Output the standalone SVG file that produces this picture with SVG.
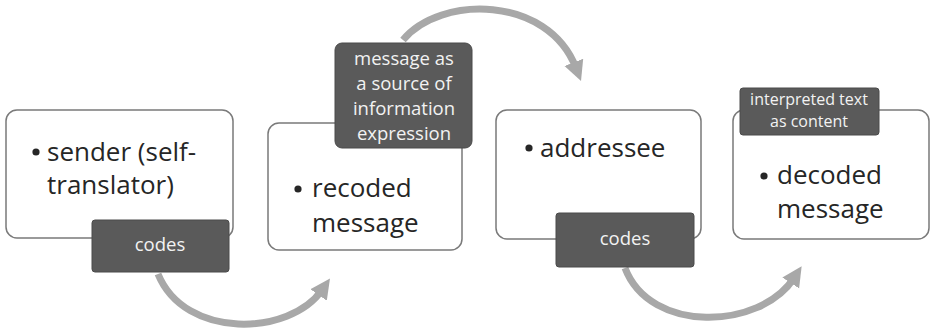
<svg xmlns="http://www.w3.org/2000/svg" width="937" height="333" viewBox="0 0 937 333">
<style>
.box{fill:#fff;stroke:#7a7a7a;stroke-width:1.5}
.lab{fill:#5a5a5a;stroke:#4a4a4a;stroke-width:1}
.bt{font-family:"Open Sans","Liberation Sans",sans-serif;font-size:26px;fill:#262626}
.lt{font-family:"Open Sans","Liberation Sans",sans-serif;font-size:18.5px;fill:#f2f2f2;text-anchor:middle}
.st{font-family:"Open Sans","Liberation Sans",sans-serif;font-size:16px;fill:#f2f2f2;text-anchor:middle}
.arr{fill:none;stroke:#a8a8a8;stroke-width:7;marker-end:url(#ah)}
</style>
<defs>
<marker id="ah" markerUnits="userSpaceOnUse" markerWidth="24" markerHeight="24" refX="6" refY="12" orient="auto" viewBox="0 0 24 24">
<path d="M0,2 L20,12 L0,22 Z" fill="#a8a8a8"/>
</marker>
</defs>
<g id="connectors">
<path class="arr" d="M158,274 C185,340 290,336 322,290"/>
<path class="arr" d="M403,40 C440,-5 548,-5 576,68"/>
<path class="arr" d="M625,268 C650,334 760,330 794,278"/>
</g>
<g id="node1">
<rect class="box" x="6" y="110" width="227" height="128" rx="11"/>
<circle cx="36" cy="152" r="3.6" fill="#262626"/>
<text class="bt" x="47" y="161">sender (self-</text>
<text class="bt" x="47" y="194">translator)</text>
<rect class="lab" x="92" y="220" width="137" height="52" rx="3"/>
<text class="lt" x="160" y="251" font-size="17">codes</text>
</g>
<g id="node2">
<rect class="box" x="268" y="123" width="194" height="127" rx="11"/>
<circle cx="298" cy="189" r="3.6" fill="#262626"/>
<text class="bt" x="312" y="197">recoded</text>
<text class="bt" x="312" y="232">message</text>
<rect class="lab" x="335" y="43" width="137" height="105" rx="7"/>
<text class="lt" x="404" y="65">message as</text>
<text class="lt" x="404" y="90">a source of</text>
<text class="lt" x="404" y="115">information</text>
<text class="lt" x="404" y="140">expression</text>
</g>
<g id="node3">
<rect class="box" x="496" y="110" width="205" height="129" rx="11"/>
<circle cx="529" cy="148" r="3.6" fill="#262626"/>
<text class="bt" x="540" y="157">addressee</text>
<rect class="lab" x="556" y="213" width="138" height="54" rx="3"/>
<text class="lt" x="625" y="245" font-size="17">codes</text>
</g>
<g id="node4">
<rect class="box" x="733" y="110" width="196" height="129" rx="11"/>
<circle cx="764" cy="176" r="3.6" fill="#262626"/>
<text class="bt" x="777" y="184">decoded</text>
<text class="bt" x="777" y="218">message</text>
<rect class="lab" x="740" y="88" width="139" height="47" rx="3"/>
<text class="st" x="809" y="105">interpreted text</text>
<text class="st" x="809" y="127">as content</text>
</g>
</svg>
